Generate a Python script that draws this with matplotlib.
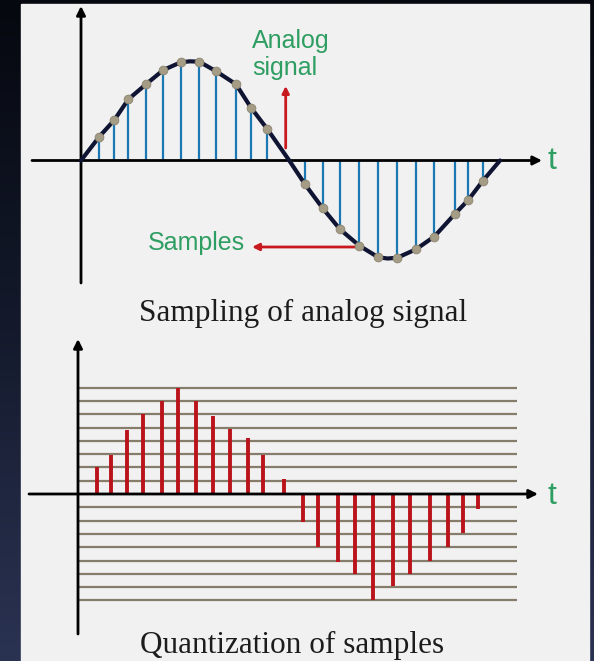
import numpy as np
import matplotlib
matplotlib.use("Agg")
import matplotlib.pyplot as plt
from matplotlib.colors import LinearSegmentedColormap
from matplotlib.patches import Rectangle

# ---------------- data ----------------
# analog signal (time in fraction of one period, amplitude normalised to peak)
curve_t = [0, 0.0437, 0.0795, 0.1129, 0.1551, 0.1964, 0.2379, 0.26, 0.2823, 0.3215,
           0.3699, 0.4057, 0.4446, 0.497, 0.5346, 0.5768, 0.6181, 0.6642, 0.7095,
           0.732, 0.7549, 0.7995, 0.8432, 0.8926, 0.9243, 0.9587, 1.0]
curve_a = [0, 0.243, 0.413, 0.624, 0.778, 0.923, 1.002, 1.012, 1.008, 0.913,
           0.778, 0.539, 0.321, 0, -0.243, -0.487, -0.702, -0.869, -0.988,
           -1.0, -0.992, -0.906, -0.776, -0.544, -0.403, -0.209, 0]

# samples of the analog signal
sample_t = [0.0437, 0.0795, 0.1129, 0.1551, 0.1964, 0.2379, 0.2823, 0.3215, 0.3699,
            0.4057, 0.4446, 0.5346, 0.5768, 0.6181, 0.6642, 0.7095, 0.7549, 0.7995,
            0.8432, 0.8926, 0.9243, 0.9587]
sample_a = [0.243, 0.413, 0.624, 0.778, 0.923, 1.002, 1.008, 0.913, 0.778,
            0.539, 0.321, -0.243, -0.487, -0.702, -0.869, -0.988, -0.992, -0.906,
            -0.776, -0.544, -0.403, -0.209]

# quantized samples (in quantization levels)
quant_t = [0.0446, 0.0780, 0.1162, 0.1544, 0.2005, 0.2394, 0.2816, 0.3215, 0.3628,
           0.4050, 0.4422, 0.4916, 0.5377, 0.5735, 0.6198, 0.6611, 0.7048, 0.7511,
           0.7924, 0.8401, 0.8823, 0.9196, 0.9539]
quant_v = [2, 2.9, 4.8, 6, 7, 8, 7, 5.9, 4.9, 4.2, 2.9, 1.1,
           -2.1, -4, -5.1, -6, -8, -6.9, -6, -5, -4, -2.9, -1.1]
quant_levels = [-8, -7, -6, -5, -4, -3, -2, -1, 1, 2, 3, 4, 5, 6, 7, 8]

title_top = "Sampling of analog signal"
title_bottom = "Quantization of samples"
label_analog = ["Analog", "signal"]
label_samples = "Samples"
label_t = "t"

# ---------------- style ----------------
GREEN = "#2f9e62"
RED = "#c8191f"
BLUE = "#1b78b2"
NAVY = "#0f1433"
DOT = "#a59c86"
GRID = "#857d6a"
QRED = "#bb131b"
SANS = ["Liberation Sans", "DejaVu Sans"]
SERIF = ["Liberation Serif", "DejaVu Serif"]

W, H = 594, 661
fig = plt.figure(figsize=(W / 100, H / 100), dpi=100)


def fig_rect(x0, y0, x1, y1):
    return [x0 / W, 1 - y1 / H, (x1 - x0) / W, (y1 - y0) / H]


# background
bg = fig.add_axes([0, 0, 1, 1])
bg.axis("off")
cmap = LinearSegmentedColormap.from_list("bg", ["#06080f", "#141a2c", "#2b3353"])
grad = np.linspace(0, 1, 256).reshape(-1, 1)
bg.imshow(grad, aspect="auto", cmap=cmap, extent=[0, W, H, 0], zorder=0)
bg.add_patch(Rectangle((21, 4), 568, 657, color="#f1f1f1", zorder=1))
bg.set_xlim(0, W)
bg.set_ylim(H, 0)
bg.text(303, 313, title_top, ha="center", va="center", fontsize=22.5,
        family=SERIF, color="#1c1c1c", zorder=2)
bg.text(292, 645, title_bottom, ha="center", va="center", fontsize=22.5,
        family=SERIF, color="#1c1c1c", zorder=2)

# ---------------- top panel ----------------
PX_T = 419.0   # pixels per period
X0_TOP, Y0_TOP, PX_A = 81.0, 160.5, 98.0


def tt(px):
    return (px - X0_TOP) / PX_T


def ta(py):
    return (Y0_TOP - py) / PX_A


ax1 = fig.add_axes(fig_rect(21, 4, 589, 300))
ax1.axis("off")
ax1.set_xlim(tt(21), tt(589))
ax1.set_ylim(ta(300), ta(4))

ax1.vlines(sample_t, 0, sample_a, color=BLUE, lw=1.6, zorder=2)
ax1.plot(curve_t, curve_a, color=NAVY, lw=3, zorder=3,
         solid_capstyle="round", solid_joinstyle="round")
ax1.scatter(sample_t, sample_a, s=40, color=DOT, edgecolors="#8d8470",
            linewidths=0.6, zorder=4)

arrow_kw = dict(arrowstyle="-|>", color="black", lw=2, mutation_scale=13,
                shrinkA=0, shrinkB=0)
ax1.annotate("", xy=(tt(542), 0), xytext=(tt(32), 0), arrowprops=arrow_kw, zorder=2.5)
ax1.annotate("", xy=(0, ta(6)), xytext=(0, ta(283)), arrowprops=arrow_kw, zorder=2.5)

red_kw = dict(arrowstyle="-|>", color=RED, lw=2, mutation_scale=10,
              shrinkA=0, shrinkB=0)
ax1.annotate("", xy=(tt(285.7), ta(86)), xytext=(tt(285.7), ta(148)), arrowprops=red_kw)
ax1.annotate("", xy=(tt(252), ta(247)), xytext=(tt(355), ta(247)), arrowprops=red_kw)

ax1.text(tt(252), ta(48), label_analog[0], ha="left", va="baseline",
         fontsize=18, family=SANS, color=GREEN)
ax1.text(tt(252), ta(75), label_analog[1], ha="left", va="baseline",
         fontsize=18, family=SANS, color=GREEN)
ax1.text(tt(245), ta(243), label_samples, ha="right", va="center",
         fontsize=18, family=SANS, color=GREEN)
ax1.text(tt(547), ta(161), label_t, ha="left", va="center",
         fontsize=23, family=SANS, color=GREEN)

# ---------------- bottom panel ----------------
X0_BOT, Y0_BOT, PX_L = 78.0, 494.0, 13.3


def bt(px):
    return (px - X0_BOT) / PX_T


def bl(py):
    return (Y0_BOT - py) / PX_L


ax2 = fig.add_axes(fig_rect(21, 330, 589, 640))
ax2.axis("off")
ax2.set_xlim(bt(21), bt(589))
ax2.set_ylim(bl(640), bl(330))

ax2.hlines(quant_levels, bt(79), bt(517), color=GRID, lw=1.6, zorder=1)
ax2.vlines(quant_t, 0, quant_v, color=QRED, lw=2.8, zorder=2)
ax2.annotate("", xy=(bt(538), 0), xytext=(bt(29), 0), arrowprops=arrow_kw, zorder=3)
ax2.annotate("", xy=(0, bl(339)), xytext=(0, bl(634)), arrowprops=arrow_kw, zorder=3)
ax2.text(bt(548), bl(496), label_t, ha="left", va="center",
         fontsize=23, family=SANS, color=GREEN)

fig.savefig("out.png", dpi=100)
